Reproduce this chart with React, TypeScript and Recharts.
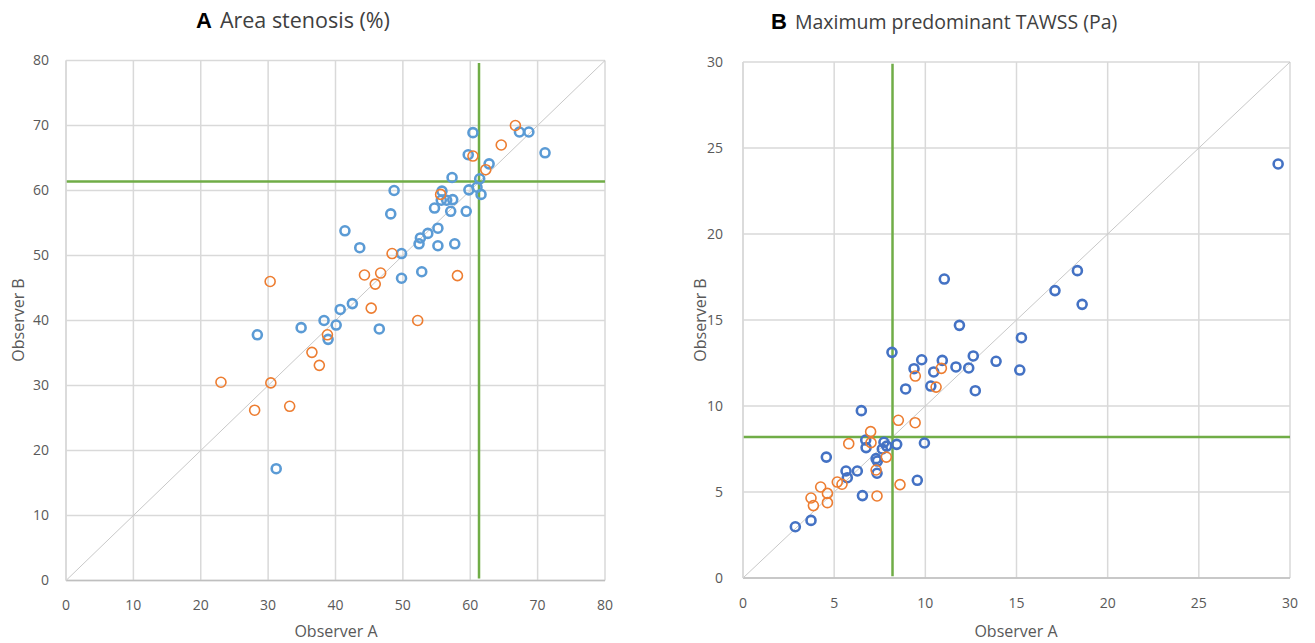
import React from "react";
import {
  ScatterChart,
  Scatter,
  XAxis,
  YAxis,
  CartesianGrid,
  ReferenceLine,
} from "recharts";

// ---- Panel A: area stenosis (%) ----
const stenBlueX = [60.4, 67.3, 68.7, 71.1, 59.7, 62.8, 61.4, 57.3, 59.8, 61.0, 61.6, 55.8, 55.7, 56.5, 57.4, 48.7, 48.2, 54.7, 57.1, 59.4, 41.4, 43.6, 55.2, 53.7, 52.6, 52.4, 55.2, 57.7, 49.8, 49.8, 52.8, 42.5, 40.7, 38.3, 40.1, 34.9, 46.5, 28.4, 38.9, 31.2];
const stenBlueY = [68.9, 69.0, 69.0, 65.8, 65.5, 64.1, 61.8, 62.0, 60.1, 60.5, 59.4, 59.9, 58.5, 58.5, 58.6, 60.0, 56.4, 57.3, 56.8, 56.8, 53.8, 51.2, 54.2, 53.4, 52.7, 51.8, 51.5, 51.8, 50.3, 46.5, 47.5, 42.6, 41.7, 40.0, 39.3, 38.9, 38.7, 37.8, 37.1, 17.2];
const stenOrangeX = [66.7, 64.6, 60.4, 62.3, 55.6, 48.4, 30.3, 44.3, 46.7, 45.9, 58.1, 45.3, 52.2, 38.8, 36.5, 37.6, 23.0, 30.4, 28.0, 33.2];
const stenOrangeY = [70.0, 67.0, 65.3, 63.2, 59.4, 50.3, 46.0, 47.0, 47.3, 45.6, 46.9, 41.9, 40.0, 37.8, 35.1, 33.1, 30.5, 30.4, 26.2, 26.8];
const stenTicks = [0, 10, 20, 30, 40, 50, 60, 70, 80];
const stenCutA = 61.3;
const stenCutB = 61.4;

// ---- Panel B: maximum predominant TAWSS (Pa) ----
const tawssBlueX = [11.04, 18.34, 17.11, 18.6, 11.87, 15.27, 8.17, 9.8, 10.93, 12.63, 13.88, 9.38, 11.68, 12.38, 15.18, 10.46, 8.92, 10.3, 12.74, 6.49, 29.35, 6.73, 6.75, 7.73, 7.88, 7.64, 8.43, 9.95, 4.57, 7.3, 7.37, 5.65, 6.27, 7.35, 5.72, 6.55, 9.56, 3.73, 2.87];
const tawssBlueY = [17.38, 17.87, 16.71, 15.91, 14.69, 13.97, 13.12, 12.69, 12.65, 12.91, 12.6, 12.17, 12.27, 12.21, 12.09, 11.98, 10.99, 11.16, 10.89, 9.73, 24.07, 8.02, 7.58, 7.89, 7.67, 7.5, 7.77, 7.85, 7.03, 6.94, 6.8, 6.22, 6.22, 6.09, 5.83, 4.79, 5.68, 3.35, 2.98];
const tawssOrangeX = [10.88, 9.45, 10.59, 8.52, 9.44, 7.0, 5.8, 7.02, 7.86, 7.3, 5.17, 5.43, 4.26, 4.63, 3.73, 3.86, 4.63, 7.35, 8.61];
const tawssOrangeY = [12.19, 11.74, 11.1, 9.17, 9.03, 8.51, 7.81, 7.87, 7.03, 6.28, 5.58, 5.45, 5.29, 4.92, 4.65, 4.21, 4.38, 4.77, 5.43];
const tawssTicks = [0, 5, 10, 15, 20, 25, 30];
const tawssCutA = 8.2;
const tawssCutB = 8.2;

const zip = (xs: number[], ys: number[]) => xs.map((x, i) => ({ x, y: ys[i] }));

const ring = (color: string, r: number, sw: number) => (p: any) => (
  <circle cx={p.cx} cy={p.cy} r={r} fill="none" stroke={color} strokeWidth={sw} />
);

const GRID = "#d9d9d9";
const GREEN = "#70ad47";
const TXT = "#595959";
const FONT = "'Open Sans', sans-serif";
const tickStyle = { fill: TXT, fontSize: 14, fontFamily: FONT };

function Title({ letter, text, left, top, size }: { letter: string; text: string; left: number; top: number; size: number }) {
  return (
    <div style={{ position: "absolute", left, top, whiteSpace: "nowrap", lineHeight: "26px" }}>
      <span style={{ fontFamily: "'Liberation Sans', Arial, sans-serif", fontWeight: 700, fontSize: 22, color: "#000" }}>{letter}</span>
      <span style={{ fontFamily: FONT, fontSize: size, color: "#404040", marginLeft: 8 }}>{text}</span>
    </div>
  );
}

function AxisTitle({ text, cx, cy, rotate }: { text: string; cx: number; cy: number; rotate?: boolean }) {
  return (
    <div
      style={{
        position: "absolute",
        left: cx,
        top: cy,
        transform: `translate(-50%, -50%)${rotate ? " rotate(-90deg)" : ""}`,
        fontFamily: FONT,
        fontSize: 16,
        color: TXT,
        whiteSpace: "nowrap",
      }}
    >
      {text}
    </div>
  );
}

export default function App() {
  return (
    <div style={{ position: "absolute", left: 0, top: 0, width: 1315, height: 643, background: "#fff", overflow: "hidden" }}>
      <Title letter="A" text="Area stenosis (%)" left={196} top={7} size={21.5} />
      <Title letter="B" text="Maximum predominant TAWSS (Pa)" left={771} top={9} size={19.5} />

      {/* Panel A */}
      <div style={{ position: "absolute", left: 0, top: 0 }}>
        <ScatterChart width={640} height={643} margin={{ top: 60.5, right: 35, bottom: 0, left: 0 }}>
          <CartesianGrid stroke={GRID} strokeWidth={1.5} />
          <XAxis
            type="number"
            dataKey="x"
            domain={[0, 80]}
            ticks={stenTicks}
            height={62.5}
            tickLine={false}
            tickMargin={14}
            axisLine={{ stroke: "#bfbfbf", strokeWidth: 1.5 }}
            tick={tickStyle}
            allowDataOverflow
          />
          <YAxis
            type="number"
            dataKey="y"
            domain={[0, 80]}
            ticks={stenTicks}
            width={66}
            tickLine={false}
            tickMargin={11}
            axisLine={{ stroke: GRID, strokeWidth: 1.5 }}
            tick={tickStyle}
            allowDataOverflow
          />
          <ReferenceLine segment={[{ x: 0, y: 0 }, { x: 80, y: 80 }]} stroke="#c8c8c8" strokeWidth={1} />
          <ReferenceLine segment={[{ x: 0, y: stenCutB }, { x: 80, y: stenCutB }]} stroke={GREEN} strokeWidth={2.5} />
          <ReferenceLine segment={[{ x: stenCutA, y: 0.3 }, { x: stenCutA, y: 79.6 }]} stroke={GREEN} strokeWidth={2.5} />
          <Scatter data={zip(stenBlueX, stenBlueY)} shape={ring("#5b9bd5", 4.5, 2.6)} isAnimationActive={false} />
          <Scatter data={zip(stenOrangeX, stenOrangeY)} shape={ring("#ed7d31", 5, 1.6)} isAnimationActive={false} />
        </ScatterChart>
      </div>

      {/* Panel B */}
      <div style={{ position: "absolute", left: 660, top: 0 }}>
        <ScatterChart width={655} height={643} margin={{ top: 62, right: 25, bottom: 0, left: 0 }}>
          <CartesianGrid stroke={GRID} strokeWidth={1.5} />
          <XAxis
            type="number"
            dataKey="x"
            domain={[0, 30]}
            ticks={tawssTicks}
            height={65}
            tickLine={false}
            tickMargin={14}
            axisLine={{ stroke: "#bfbfbf", strokeWidth: 1.5 }}
            tick={tickStyle}
            allowDataOverflow
          />
          <YAxis
            type="number"
            dataKey="y"
            domain={[0, 30]}
            ticks={tawssTicks}
            width={83}
            tickLine={false}
            tickMargin={14}
            axisLine={{ stroke: GRID, strokeWidth: 1.5 }}
            tick={tickStyle}
            allowDataOverflow
          />
          <ReferenceLine segment={[{ x: 0, y: 0 }, { x: 30, y: 30 }]} stroke="#c8c8c8" strokeWidth={1} />
          <ReferenceLine segment={[{ x: 0, y: tawssCutB }, { x: 30, y: tawssCutB }]} stroke={GREEN} strokeWidth={2.5} />
          <ReferenceLine segment={[{ x: tawssCutA, y: 0.1 }, { x: tawssCutA, y: 29.9 }]} stroke={GREEN} strokeWidth={2.5} />
          <Scatter data={zip(tawssBlueX, tawssBlueY)} shape={ring("#4472c4", 4.5, 2.6)} isAnimationActive={false} />
          <Scatter data={zip(tawssOrangeX, tawssOrangeY)} shape={ring("#ed7d31", 5, 1.6)} isAnimationActive={false} />
        </ScatterChart>
      </div>

      <AxisTitle text="Observer A" cx={336} cy={631} />
      <AxisTitle text="Observer B" cx={18} cy={320} rotate />
      <AxisTitle text="Observer A" cx={1016} cy={631} />
      <AxisTitle text="Observer B" cx={700} cy={320} rotate />
    </div>
  );
}
